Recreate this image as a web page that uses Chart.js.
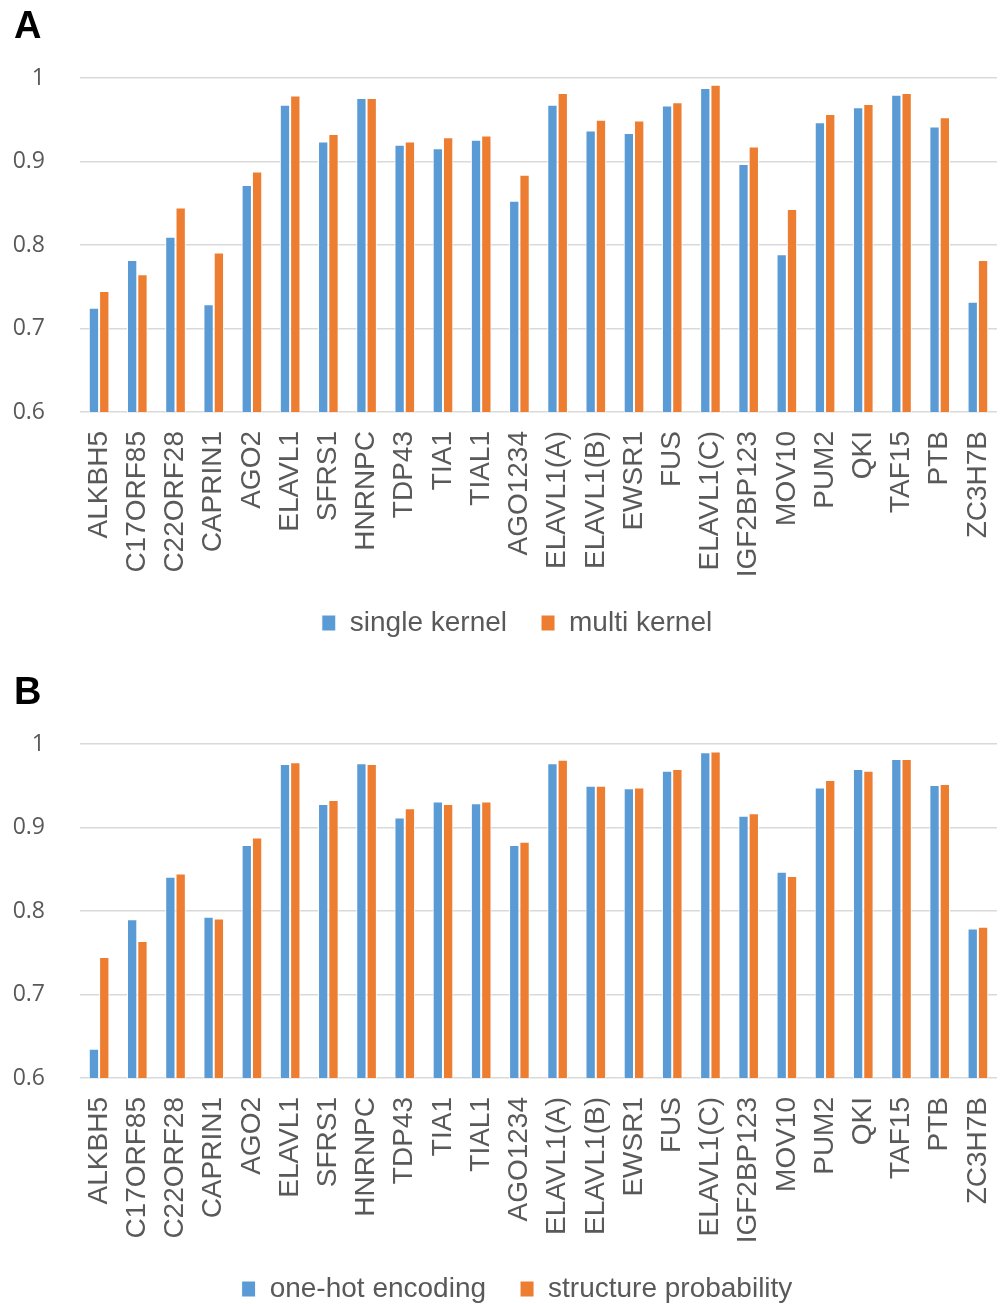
<!DOCTYPE html>
<html>
<head>
<meta charset="utf-8">
<script src="https://cdn.jsdelivr.net/npm/chart.js@4"></script>
<style>
  html, body { margin:0; padding:0; background:#fff; overflow:hidden; }
  .panel { position:absolute; left:0; width:1003px; height:647px; }
  .tag { position:absolute; left:14px; top:6px; font:bold 38px/38px "Liberation Sans", Arial, sans-serif; color:#000; }
</style>
</head>
<body>
<div class="panel" style="top:0px"><canvas id="chartA" width="1003" height="647"></canvas><div class="tag">A</div></div>
<div class="panel" style="top:666px"><canvas id="chartB" width="1003" height="647"></canvas><div class="tag">B</div></div>
<script>
const labels = ["ALKBH5","C17ORF85","C22ORF28","CAPRIN1","AGO2","ELAVL1","SFRS1","HNRNPC","TDP43","TIA1","TIAL1","AGO1234",
  "ELAVL1(A)","ELAVL1(B)","EWSR1","FUS","ELAVL1(C)","IGF2BP123","MOV10","PUM2","QKI","TAF15","PTB","ZC3H7B"];

// panel A
const singleKernel = [0.725,0.782,0.810,0.729,0.872,0.968,0.924,0.976,0.920,0.916,0.926,0.853,
  0.968,0.937,0.934,0.967,0.988,0.897,0.789,0.947,0.965,0.980,0.942,0.732];
const multiKernel = [0.745,0.765,0.845,0.791,0.888,0.979,0.933,0.976,0.924,0.929,0.931,0.884,
  0.982,0.950,0.949,0.971,0.992,0.918,0.843,0.957,0.969,0.982,0.953,0.782];

// panel B
const oneHot = [0.635,0.790,0.841,0.793,0.879,0.976,0.928,0.977,0.912,0.931,0.929,0.879,
  0.977,0.950,0.947,0.968,0.990,0.914,0.847,0.948,0.970,0.982,0.951,0.779];
const structProb = [0.745,0.764,0.845,0.791,0.888,0.978,0.933,0.976,0.923,0.928,0.931,0.883,
  0.981,0.950,0.948,0.970,0.991,0.917,0.842,0.957,0.968,0.982,0.952,0.781];

const yTicks = [0.6, 0.7, 0.8, 0.9, 1];

const BLUE = "#5B9BD5", ORANGE = "#ED7D31", GREY = "#595959";

// legend sits a bit right of the canvas centre in the original
const shiftLegend = {
  id: "shiftLegend",
  afterLayout(chart){ if(chart.legend) chart.legend.left += 37; }
};

function makeChart(id, name1, data1, name2, data2){
  const ds = (label, data, color) => ({
    label, data, backgroundColor: color, borderColor: "#ffffff", borderWidth: 1,
    categoryPercentage: 0.54, barPercentage: 1.0
  });
  return new Chart(document.getElementById(id), {
    type: "bar",
    data: { labels, datasets: [ds(name1, data1, BLUE), ds(name2, data2, ORANGE)] },
    plugins: [shiftLegend],
    options: {
      responsive: false,
      animation: false,
      layout: { padding: { top: 78, left: 0, right: 6, bottom: 0 } },
      plugins: {
        tooltip: { enabled: false },
        legend: {
          position: "bottom",
          labels: {
            boxWidth: 14, boxHeight: 16, padding: 34, color: GREY,
            font: { family: "'Liberation Sans', Arial, sans-serif", size: 28 }
          }
        }
      },
      scales: {
        x: {
          grid: { display: false },
          border: { display: false },
          ticks: {
            autoSkip: false, minRotation: 90, maxRotation: 90, padding: 11, color: GREY,
            font: { family: "'Liberation Sans', Arial, sans-serif", size: 28 }
          },
          afterFit: s => { s.height = 163; s.paddingLeft = 0; s.paddingRight = 0; }
        },
        y: {
          min: 0.6, max: 1,
          afterBuildTicks: s => { s.ticks = yTicks.map(v => ({ value: v })); },
          grid: { color: "#d9d9d9", lineWidth: 1.5, drawTicks: false },
          border: { display: false },
          ticks: {
            padding: 35, color: GREY,
            font: { family: "'Open Sans', sans-serif", size: 23 },
            callback: v => String(Math.round(v * 10) / 10)
          },
          afterFit: s => { s.width = 80; }
        }
      }
    }
  });
}

makeChart("chartA", "single kernel", singleKernel, "multi kernel", multiKernel);
makeChart("chartB", "one-hot encoding", oneHot, "structure probability", structProb);
</script>
</body>
</html>
